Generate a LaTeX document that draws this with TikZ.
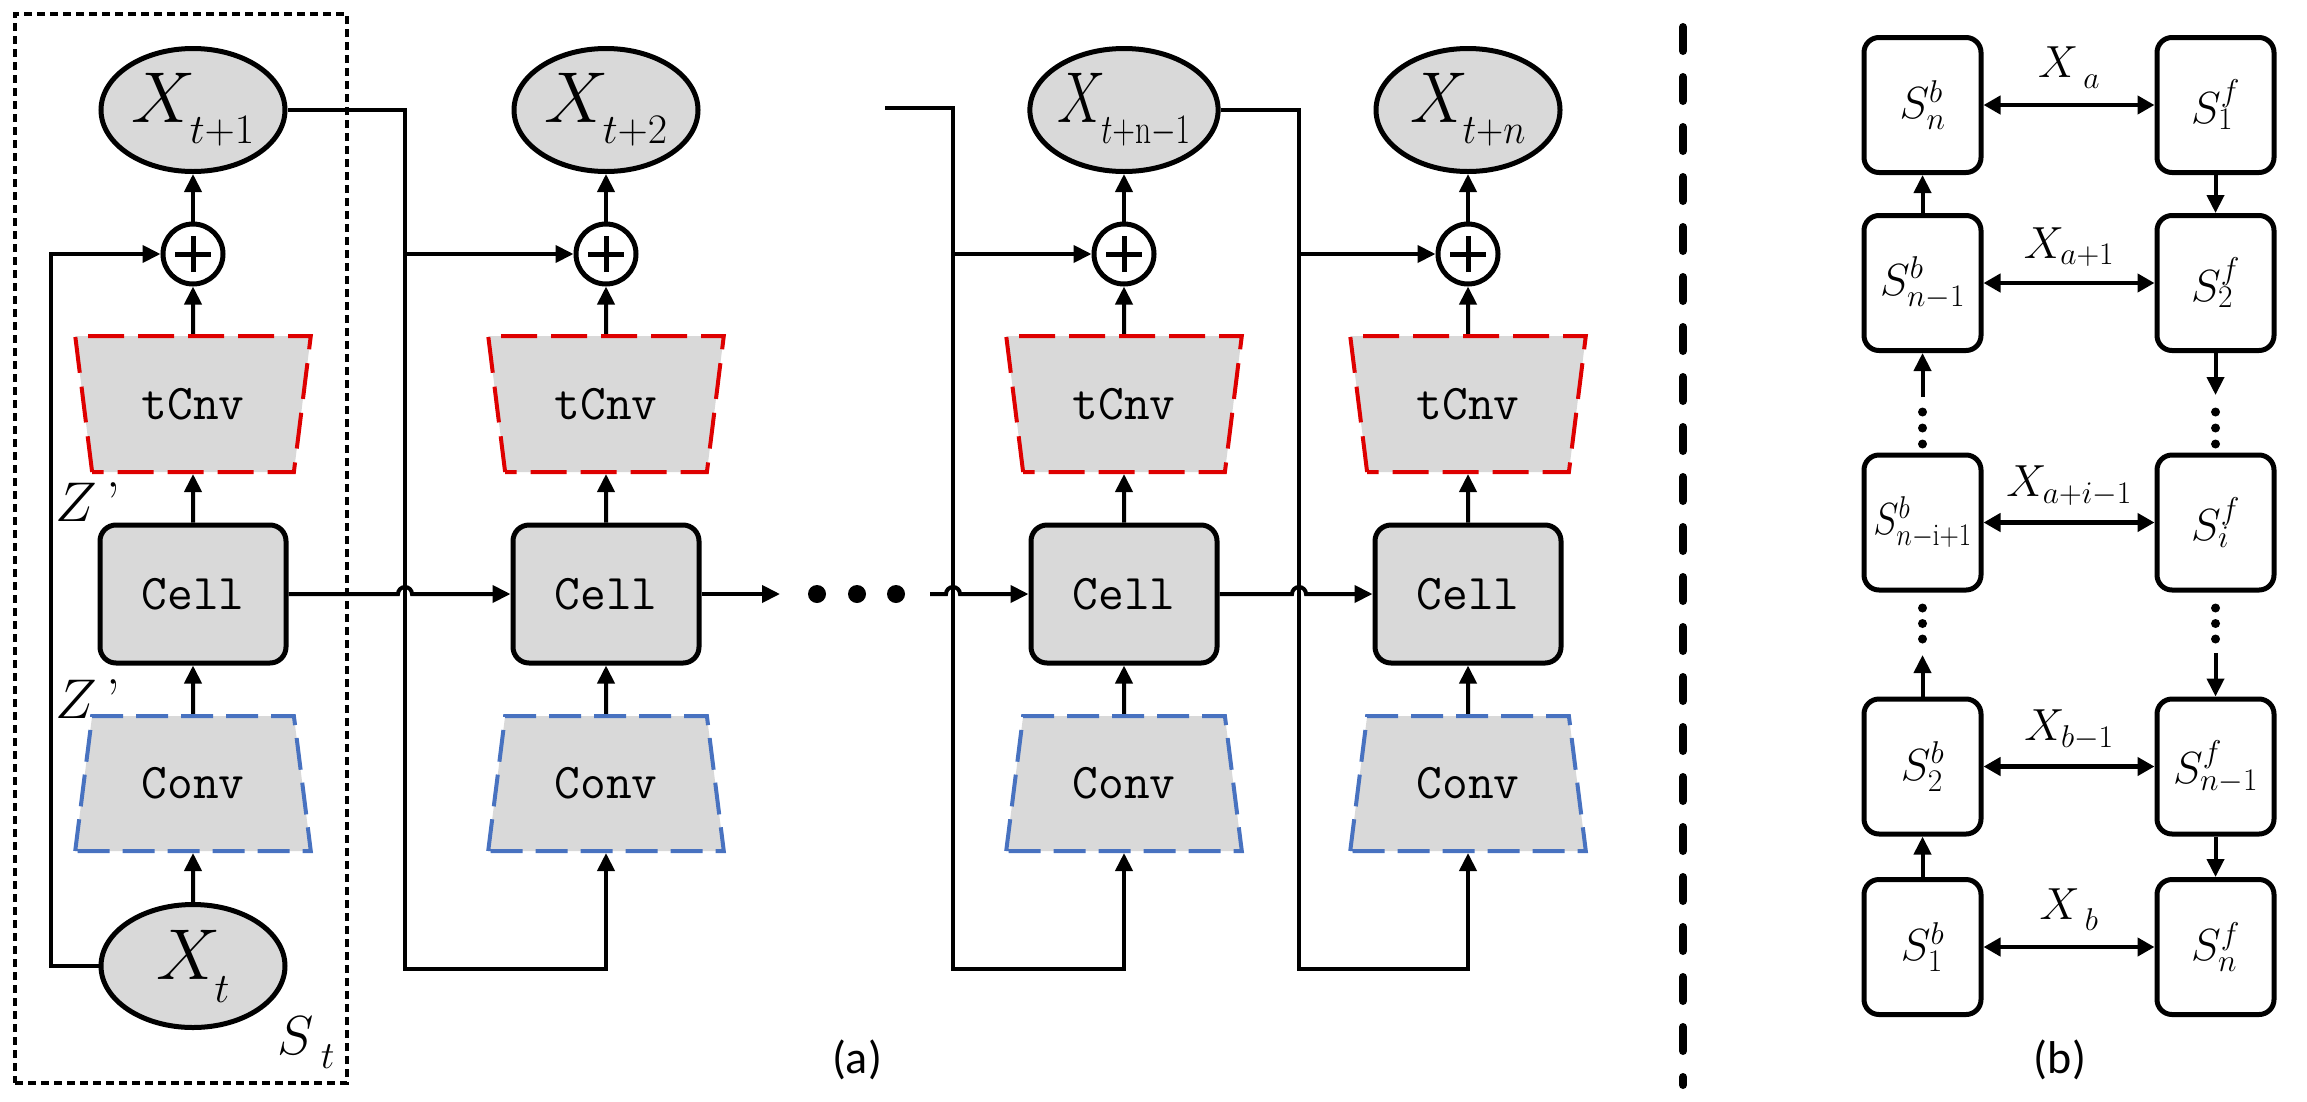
\RequirePackage{fix-cm}
\documentclass[tikz,border=0pt]{standalone}
\usepackage{fontspec}
\newfontfamily\capfont{Carlito}
\usetikzlibrary{arrows.meta,shapes.geometric,calc}
\definecolor{boxgray}{RGB}{217,217,217}
\definecolor{dred}{RGB}{222,0,0}
\definecolor{dblue}{RGB}{72,114,192}
\newcommand{\lsub}[2]{\raisebox{-#1}{\fontsize{60}{66}\selectfont$\scriptstyle #2$}}
\newcommand{\bsub}[2]{\raisebox{-#1}{$\scriptstyle #2$}}
\tikzset{
  conn/.style={line width=4pt, -{Triangle[length=18pt,width=17pt]}},
  dconn/.style={line width=4.5pt, {Triangle[length=17pt,width=18pt]}-{Triangle[length=17pt,width=18pt]}},
  xell/.style={ellipse, draw, line width=5pt, fill=boxgray, minimum width=184pt, minimum height=123pt, inner sep=0pt, font=\fontsize{72}{80}\selectfont},
  plusnode/.style={circle, draw, line width=5pt, fill=white, minimum size=60pt, inner sep=0pt,
    path picture={\draw[line width=5pt] ([xshift=-18pt]path picture bounding box.center) -- ([xshift=18pt]path picture bounding box.center);
                  \draw[line width=5pt] ([yshift=-18pt]path picture bounding box.center) -- ([yshift=18pt]path picture bounding box.center);}},
  cellbox/.style={rectangle, rounded corners=16pt, draw, line width=5pt, fill=boxgray, minimum width=186pt, minimum height=138pt, inner sep=0pt, font=\fontsize{50}{56}\selectfont\ttfamily},
  convbox/.style={trapezium, trapezium left angle=74.8, trapezium right angle=74.8, trapezium stretches=true, draw=dblue, fill=boxgray, line width=4pt, dash pattern=on 32pt off 13pt, minimum width=236pt, minimum height=135pt, inner sep=0pt, font=\fontsize{50}{56}\selectfont\ttfamily},
  tcnvbox/.style={trapezium, trapezium left angle=105.2, trapezium right angle=105.2, trapezium stretches=true, draw=dred, fill=boxgray, line width=4pt, dash pattern=on 36pt off 14pt, minimum width=236pt, minimum height=136pt, inner sep=0pt, font=\fontsize{50}{56}\selectfont\ttfamily},
  stbox/.style={draw, line width=4pt, dash pattern=on 8pt off 5pt, minimum width=332pt, minimum height=1069pt, inner sep=0pt},
  bigdot/.style={circle, fill, inner sep=0pt, minimum size=18pt},
  smalldot/.style={circle, fill, inner sep=0pt, minimum size=9pt},
  zlab/.style={font=\fontsize{56}{60}\selectfont, inner sep=0pt},
  sbox/.style={rectangle, rounded corners=15pt, draw, line width=5pt, fill=white, minimum width=117pt, minimum height=135pt, inner sep=0pt, font=\fontsize{45}{50}\selectfont},
  xlab/.style={font=\fontsize{45}{50}\selectfont, inner sep=0pt},
  caplab/.style={font=\capfont\fontsize{46}{52}\selectfont, inner sep=0pt},
}
\begin{document}
\begin{tikzpicture}[x=1pt,y=-1pt]
\useasboundingbox (0,0) rectangle (2307,1101);
% ---------- part (a) ----------
\node[stbox] (St) at (181,548.5) {};
\node[font=\fontsize{55}{60}\selectfont, inner sep=0pt] (stl) at (306,1043) {$S_{\;\bsub{6pt}{t}}$};
% column 1
\node[xell] (x1) at (193,110) {$X_{\lsub{10pt}{t+1}}$};
\node[plusnode] (p1) at (193,254) {};
\node[tcnvbox] (t1) at (193,404) {tCnv};
\node[cellbox] (c1) at (193,594) {Cell};
\node[convbox] (v1) at (193,783.5) {Conv};
\node[xell] (x0) at (193,966) {$X_{\lsub{12pt}{t}}$};
\node[zlab] (z1) at (88,502) {$Z$\,’};
\node[zlab] (z2) at (88,699) {$Z$\,’};
% column 2
\node[xell] (x2) at (606,110) {$X_{\lsub{10pt}{t+2}}$};
\node[plusnode] (p2) at (606,254) {};
\node[tcnvbox] (t2) at (606,404) {tCnv};
\node[cellbox] (c2) at (606,594) {Cell};
\node[convbox] (v2) at (606,783.5) {Conv};
% column 3
\node[xell] (x3) at (1124,110) {\scalebox{0.75}[1]{$X_{\lsub{10pt}{t+\mathrm{n}-1}}$}};
\node[plusnode] (p3) at (1124,254) {};
\node[tcnvbox] (t3) at (1124,404) {tCnv};
\node[cellbox] (c3) at (1124,594) {Cell};
\node[convbox] (v3) at (1124,783.5) {Conv};
% column 4
\node[xell] (x4) at (1468,110) {\scalebox{0.9}[1]{$X_{\lsub{10pt}{t+n}}$}};
\node[plusnode] (p4) at (1468,254) {};
\node[tcnvbox] (t4) at (1468,404) {tCnv};
\node[cellbox] (c4) at (1468,594) {Cell};
\node[convbox] (v4) at (1468,783.5) {Conv};
% dots
\node[bigdot] (d1) at (817,594) {};
\node[bigdot] (d2) at (857,594) {};
\node[bigdot] (d3) at (896,594) {};
% helper coordinates
\coordinate (lp) at (51,600);
\coordinate (j1) at (405,969);
\coordinate (j2) at (953,969);
\coordinate (j3) at (1299,969);
\coordinate (s3) at (885,108);
\coordinate (dA) at (780,594);
\coordinate (dB) at (930,594);
% vertical flows
\foreach \k in {1,2,3,4}{
  \draw[conn] (p\k.north) -- (x\k.south);
  \draw[conn] (t\k.north) -- (p\k.south);
  \draw[conn] (c\k.north) -- (t\k.south);
  \draw[conn] (v\k.north) -- (c\k.south);
}
\draw[conn] (x0.north) -- (v1.south);
% skip connections
\draw[conn] (x0.west) -- (x0.west -| lp) |- (p1.west);
\draw[conn] (x1.east) -| (j1) -| (v2.south);
\draw[conn] (p2.west -| j1) -- (p2.west);
\draw[conn] (s3) -| (j2) -| (v3.south);
\draw[conn] (p3.west -| j2) -- (p3.west);
\draw[conn] (x3.east) -| (j3) -| (v4.south);
\draw[conn] (p4.west -| j3) -- (p4.west);
% cell chain with hops
\draw[conn] (c1.east) -- ($(c1.east -| j1)+(-7,0)$) arc[start angle=180,end angle=0,radius=7pt] -- (c2.west);
\draw[conn] (c2.east) -- (dA);
\draw[conn] (dB) -- ($(dB -| j2)+(-7,0)$) arc[start angle=180,end angle=0,radius=7pt] -- (c3.west);
\draw[conn] (c3.east) -- ($(c3.east -| j3)+(-7,0)$) arc[start angle=180,end angle=0,radius=7pt] -- (c4.west);
\node[caplab] (capa) at (857,1060) {(a)};
% ---------- separator ----------
\coordinate (sepT) at (1683,27);
\coordinate (sepB) at (1683,1085);
\draw[line width=8pt, line cap=round, dash pattern=on 24pt off 26pt] (sepT) -- (sepB);
% ---------- part (b) ----------
\node[sbox] (bn)  at (1922.5,105) {$S^{b}_{n}$};
\node[sbox] (bm)  at (1922.5,283) {$S^{b}_{n-1}$};
\node[sbox] (bi)  at (1922.5,522.5) {\scalebox{0.85}[1]{$S^{b}_{n-\mathrm{i}+1}$}};
\node[sbox] (b2)  at (1922.5,766.5) {$S^{b}_{2}$};
\node[sbox] (b1)  at (1922.5,947) {$S^{b}_{1}$};
\node[sbox] (f1)  at (2215.5,105) {$S^{f}_{1}$};
\node[sbox] (f2)  at (2215.5,283) {$S^{f}_{2}$};
\node[sbox] (fi)  at (2215.5,522.5) {$S^{f}_{i}$};
\node[sbox] (fm)  at (2215.5,766.5) {$S^{f}_{n-1}$};
\node[sbox] (fn)  at (2215.5,947) {$S^{f}_{n}$};
\draw[dconn] (bn.east) -- (f1.west) node[midway, above=14pt, xlab] (la) {$X_{\;\bsub{5pt}{a}}$};
\draw[dconn] (bm.east) -- (f2.west) node[midway, above=14pt, xlab] (la1) {$X_{a+1}$};
\draw[dconn] (bi.east) -- (fi.west) node[midway, above=14pt, xlab] (lai) {$X_{a+i-1}$};
\draw[dconn] (b2.east) -- (fm.west) node[midway, above=14pt, xlab] (lb1) {$X_{b-1}$};
\draw[dconn] (b1.east) -- (fn.west) node[midway, above=14pt, xlab] (lb) {$X_{\;\bsub{5pt}{b}}$};
% left column (upwards)
\coordinate (lu1) at (1922.5,655);
\coordinate (lu2) at (1922.5,397);
\draw[conn] (b1.north) -- (b2.south);
\draw[conn] (b2.north) -- (lu1);
\draw[conn] (lu2) -- (bm.south);
\draw[conn] (bm.north) -- (bn.south);
\node[smalldot] (ld1) at (1922.5,412) {};
\node[smalldot] (ld2) at (1922.5,428) {};
\node[smalldot] (ld3) at (1922.5,444) {};
\node[smalldot] (ld4) at (1922.5,608) {};
\node[smalldot] (ld5) at (1922.5,623.5) {};
\node[smalldot] (ld6) at (1922.5,639) {};
% right column (downwards)
\coordinate (rd1) at (2215.5,395);
\coordinate (rd2) at (2215.5,653);
\draw[conn] (f1.south) -- (f2.north);
\draw[conn] (f2.south) -- (rd1);
\draw[conn] (rd2) -- (fm.north);
\draw[conn] (fm.south) -- (fn.north);
\node[smalldot] (rdd1) at (2215.5,412) {};
\node[smalldot] (rdd2) at (2215.5,428) {};
\node[smalldot] (rdd3) at (2215.5,444) {};
\node[smalldot] (rdd4) at (2215.5,608) {};
\node[smalldot] (rdd5) at (2215.5,623.5) {};
\node[smalldot] (rdd6) at (2215.5,639) {};
\node[caplab] (capb) at (2060,1060) {(b)};
\end{tikzpicture}
\end{document}
